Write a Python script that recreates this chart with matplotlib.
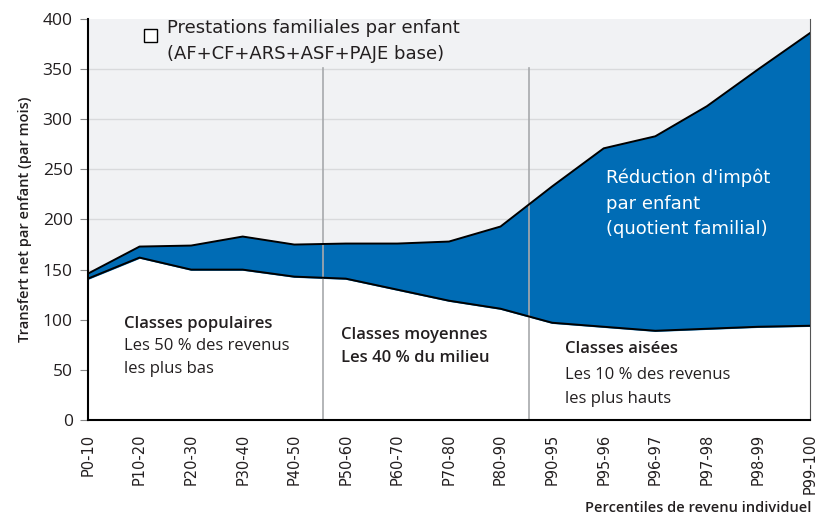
import matplotlib.pyplot as plt
from matplotlib.patches import Rectangle

plt.rcParams['font.family'] = ['Open Sans', 'DejaVu Sans']

# Données (euros par mois et par enfant)
percentiles = ['P0-10', 'P10-20', 'P20-30', 'P30-40', 'P40-50', 'P50-60',
               'P60-70', 'P70-80', 'P80-90', 'P90-95', 'P95-96', 'P96-97',
               'P97-98', 'P98-99', 'P99-100']
prestations = [141, 162, 150, 150, 143, 141, 130, 119, 111, 97, 93, 89, 91, 93, 94]
total = [146, 173, 174, 183, 175, 176, 176, 178, 193, 233, 271, 283, 313, 350, 386]

bleu = '#006cb5'
gris_fond = '#f1f2f4'
texte = '#231f20'
large = ['DejaVu Sans']  # police plus large, pour imiter l'espacement des lettres

fig = plt.figure(figsize=(8.19, 5.21), dpi=100)
ax = fig.add_axes([0.1074, 0.1939, 0.8816, 0.7696])

x = list(range(len(percentiles)))

ax.set_facecolor(gris_fond)
for g in range(50, 400, 50):
    ax.axhline(g, color='#d9dadc', lw=1, zorder=0.5)

ax.fill_between(x, 0, prestations, color='white', zorder=1)
ax.fill_between(x, prestations, total, color=bleu, zorder=1)
ax.plot(x, prestations, color='black', lw=1.4, zorder=3)
ax.plot(x, total, color='black', lw=1.4, zorder=3)

# séparateurs des classes
for sep in [4.55, 8.55]:
    ax.plot([sep, sep], [0, 351], color='#a7a9ac', lw=1.2, zorder=2)

ax.set_xlim(0, len(percentiles) - 1)
ax.set_ylim(0, 400)
ax.set_yticks(range(0, 401, 50))
ax.tick_params(axis='y', labelsize=12.5, length=6, color='#888888',
               labelcolor=texte, pad=5)
ax.set_xticks(x)
ax.set_xticklabels(percentiles, rotation=90, fontsize=10.5, color=texte,
                   family=large)
ax.tick_params(axis='x', length=0, pad=10)

ax.spines['top'].set_visible(False)
ax.spines['right'].set_color('#555555')
ax.spines['right'].set_linewidth(0.8)
ax.spines['left'].set_linewidth(1.5)
ax.spines['bottom'].set_linewidth(1.5)

ax.set_ylabel('Transfert net par enfant (par mois)', fontsize=10.5,
              fontweight='semibold', color=texte, labelpad=8)
fig.text(0.991, 0.012, 'Percentiles de revenu individuel', ha='right',
         va='bottom', fontsize=10.5, fontweight='semibold', color=texte)

# légende
ax.add_patch(Rectangle((0.078, 0.943), 0.017, 0.031, transform=ax.transAxes,
                       facecolor='white', edgecolor='black', lw=1, zorder=5,
                       clip_on=False))
ax.text(0.11, 1.0, 'Prestations familiales par enfant\n(AF+CF+ARS+ASF+PAJE base)',
        transform=ax.transAxes, fontsize=13, color=texte, va='top',
        linespacing=1.6, zorder=5, family=large)

ax.text(10.05, 216, "Réduction d'impôt\npar enfant\n(quotient familial)",
        color='white', fontsize=13, va='center', linespacing=1.55, zorder=5,
        family=large)

# classes
ax.text(0.7, 92, 'Classes populaires', fontsize=12, fontweight='semibold',
        color=texte, zorder=5)
ax.text(0.7, 47, 'Les 50 % des revenus\nles plus bas', fontsize=12,
        color=texte, linespacing=1.55, zorder=5)
ax.text(4.9, 81, 'Classes moyennes', fontsize=12, fontweight='semibold',
        color=texte, zorder=5)
ax.text(4.9, 58, 'Les 40 % du milieu', fontsize=12, fontweight='semibold',
        color=texte, zorder=5)
ax.text(9.25, 67, 'Classes aisées', fontsize=12, fontweight='semibold',
        color=texte, zorder=5)
ax.text(9.25, 17, 'Les 10 % des revenus\nles plus hauts', fontsize=12,
        color=texte, linespacing=1.65, zorder=5)

fig.savefig('out.png', dpi=100)
